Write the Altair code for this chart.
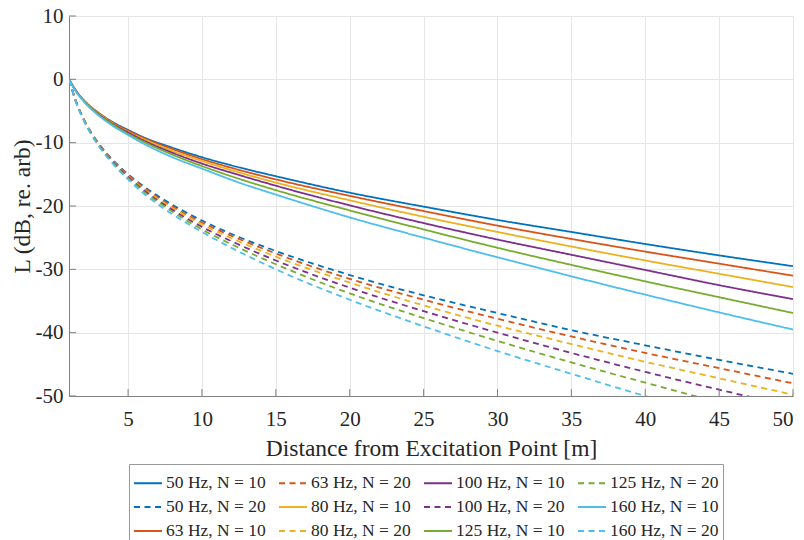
import altair as alt
import pandas as pd

# distance from excitation point [m]
x = [1, 1.5, 2, 3, 4, 5, 6, 8, 10, 12.5, 15, 20, 25, 30, 35, 40, 45, 50]

# level (dB re. arb)
L_50_N10 = [0, -1.9, -3.3, -5.3, -6.8, -8.0, -9.1, -10.8, -12.3, -13.9, -15.3, -17.9, -20.1, -22.2, -24.1, -26.0, -27.8, -29.5]
L_63_N10 = [0, -1.9, -3.3, -5.3, -6.9, -8.1, -9.2, -11.0, -12.6, -14.3, -15.8, -18.4, -20.8, -23.1, -25.2, -27.2, -29.1, -31.0]
L_80_N10 = [0, -1.9, -3.3, -5.4, -7.0, -8.3, -9.4, -11.3, -12.9, -14.7, -16.3, -19.1, -21.7, -24.1, -26.4, -28.6, -30.7, -32.8]
L_100_N10 = [0, -1.9, -3.4, -5.5, -7.1, -8.4, -9.6, -11.6, -13.3, -15.1, -16.8, -19.9, -22.7, -25.3, -27.7, -30.1, -32.5, -34.7]
L_125_N10 = [0, -2.0, -3.4, -5.6, -7.2, -8.6, -9.8, -11.9, -13.7, -15.7, -17.5, -20.7, -23.7, -26.6, -29.3, -31.9, -34.4, -36.9]
L_160_N10 = [0, -2.0, -3.5, -5.7, -7.4, -8.8, -10.1, -12.3, -14.1, -16.3, -18.2, -21.8, -25.0, -28.1, -31.1, -34.0, -36.8, -39.5]
L_50_N20 = [0, -3.6, -6.3, -10.1, -12.8, -15.0, -16.8, -19.8, -22.3, -24.9, -27.1, -30.9, -34.1, -36.9, -39.6, -42.0, -44.3, -46.5]
L_63_N20 = [0, -3.7, -6.3, -10.1, -12.9, -15.1, -17.0, -20.1, -22.6, -25.2, -27.5, -31.5, -34.8, -37.8, -40.6, -43.2, -45.6, -48.0]
L_80_N20 = [0, -3.7, -6.3, -10.2, -13.0, -15.3, -17.2, -20.3, -22.9, -25.6, -28.0, -32.1, -35.7, -38.9, -41.8, -44.6, -47.2, -49.8]
L_100_N20 = [0, -3.7, -6.4, -10.3, -13.1, -15.4, -17.4, -20.6, -23.3, -26.1, -28.6, -32.9, -36.6, -40.0, -43.2, -46.2, -49.0, -51.7]
L_125_N20 = [0, -3.7, -6.4, -10.4, -13.3, -15.6, -17.6, -20.9, -23.7, -26.6, -29.2, -33.8, -37.7, -41.3, -44.7, -47.9, -51.0, -53.9]
L_160_N20 = [0, -3.8, -6.5, -10.5, -13.4, -15.8, -17.9, -21.3, -24.1, -27.2, -30.0, -34.8, -39.0, -42.9, -46.5, -50.0, -53.3, -56.5]

series = {
    "50 Hz, N = 10": L_50_N10, "50 Hz, N = 20": L_50_N20,
    "63 Hz, N = 10": L_63_N10, "63 Hz, N = 20": L_63_N20,
    "80 Hz, N = 10": L_80_N10, "80 Hz, N = 20": L_80_N20,
    "100 Hz, N = 10": L_100_N10, "100 Hz, N = 20": L_100_N20,
    "125 Hz, N = 10": L_125_N10, "125 Hz, N = 20": L_125_N20,
    "160 Hz, N = 10": L_160_N10, "160 Hz, N = 20": L_160_N20,
}
freq_colors = {"50": "#0072BD", "63": "#D95319", "80": "#EDB120",
               "100": "#7E2F8E", "125": "#77AC30", "160": "#4DBEEE"}

# legend order (the 4-column legend fills column by column, 3 rows)
legend_order = list(series.keys())
color_range = [freq_colors[s.split(" ")[0]] for s in legend_order]
dash_range = [[1, 0] if s.endswith("10") else [6, 4.5] for s in legend_order]

x_ticks = [5, 10, 15, 20, 25, 30, 35, 40, 45, 50]
y_ticks = [-50, -40, -30, -20, -10, 0, 10]

rows = []
for name, vals in series.items():
    for xi, yi in zip(x, vals):
        rows.append({"series": name, "x": xi, "L": yi})
df = pd.DataFrame(rows)

FONT = "Liberation Serif"
AX = "#808080"
TXT = "#262626"
W, H = 724, 380

xscale = alt.Scale(domain=[1, 50], nice=False, zero=False)
yscale = alt.Scale(domain=[-50, 10], nice=False, zero=False)

lines = alt.Chart(df).mark_line(strokeWidth=1.8, interpolate="monotone", clip=True).encode(
    x=alt.X("x:Q", scale=xscale,
            axis=alt.Axis(values=x_ticks, title="Distance from Excitation Point [m]",
                          labelExpr="'' + datum.value",
                          grid=True, tickSize=0, labelPadding=12, titlePadding=7)),
    y=alt.Y("L:Q", scale=yscale,
            axis=alt.Axis(values=y_ticks, title="L (dB, re. arb)",
                          labelExpr="'' + datum.value",
                          grid=True, tickSize=0, labelPadding=6, titlePadding=1)),
    color=alt.Color("series:N", scale=alt.Scale(domain=legend_order, range=color_range),
                    title=None,
                    legend=alt.Legend(orient="none", legendX=60, legendY=448, columns=4,
                                      symbolType="stroke", symbolSize=784,
                                      symbolStrokeWidth=1.8, labelFontSize=17.5,
                                      labelFont=FONT, labelColor=TXT, labelOffset=3,
                                      strokeColor="#999999", fillColor="white",
                                      padding=4, rowPadding=-5, columnPadding=9,
                                      labelLimit=250)),
    strokeDash=alt.StrokeDash("series:N", scale=alt.Scale(domain=legend_order, range=dash_range),
                              title=None),
    detail="series:N",
)

xt = pd.DataFrame({"x": x_ticks})
yt = pd.DataFrame({"y": y_ticks})
xtick_marks = alt.Chart(xt).mark_rule(color=AX, strokeWidth=1).encode(
    x=alt.X("x:Q", scale=xscale), y=alt.value(H), y2=alt.value(H - 7))
ytick_marks = alt.Chart(yt).mark_rule(color=AX, strokeWidth=1).encode(
    y=alt.Y("y:Q", scale=yscale), x=alt.value(0), x2=alt.value(7))

chart = alt.layer(lines, xtick_marks, ytick_marks).properties(
    width=W, height=H,
    autosize=alt.AutoSizeParams(type="none"),
    padding={"left": 69, "top": 16, "right": 11, "bottom": 144},
).configure(font=FONT).configure_view(stroke=None).configure_axis(
    labelFont=FONT, titleFont=FONT, labelFontSize=21, titleFontSize=23.5,
    titleFontWeight="normal", labelColor=TXT, titleColor=TXT,
    domainColor=AX, gridColor="#e6e6e6", gridWidth=1,
)

chart.save("out.html", embed_options={"renderer": "svg", "actions": False})
